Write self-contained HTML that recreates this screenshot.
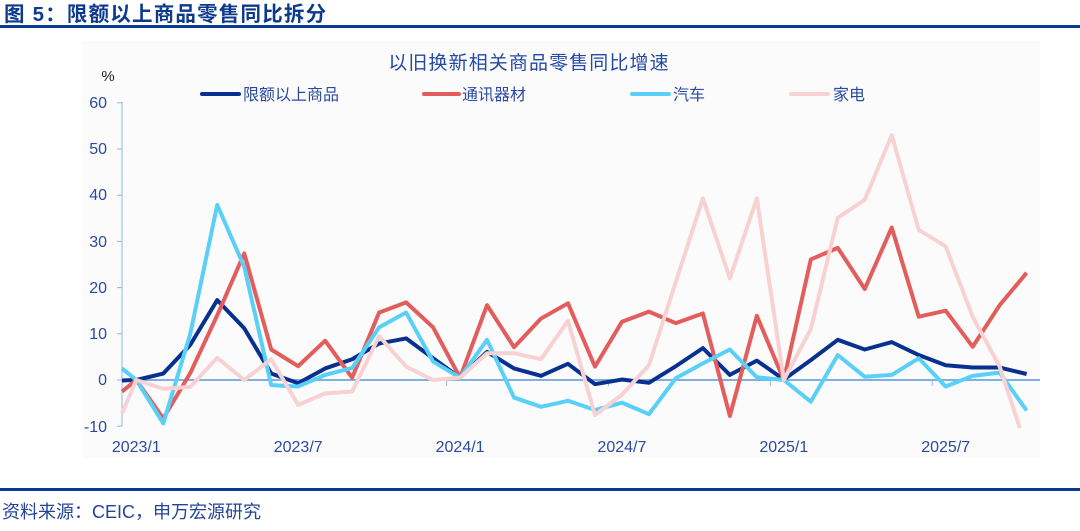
<!DOCTYPE html>
<html><head><meta charset="utf-8"><style>
html,body{margin:0;padding:0;background:#fff;}
svg{display:block;}
text{font-family:"Liberation Sans","Noto Sans CJK SC",sans-serif;}
</style></head><body>
<svg width="1080" height="531" viewBox="0 0 1080 531" xmlns="http://www.w3.org/2000/svg">
<rect x="0" y="0" width="1080" height="531" fill="#ffffff"/>
<text x="4" y="21" font-size="20.5" font-weight="bold" fill="#0e3a8e" letter-spacing="1.2">图 5：限额以上商品零售同比拆分</text>
<rect x="0" y="25" width="1080" height="3" fill="#0b3a94"/>
<rect x="82" y="41" width="958" height="417" fill="#fbfbfb"/>
<text x="529" y="69" font-size="19" fill="#244aa3" text-anchor="middle" letter-spacing="1.1">以旧换新相关商品零售同比增速</text>
<text x="108" y="81" font-size="15" fill="#222" text-anchor="middle">%</text>
<g stroke-width="4" stroke-linecap="round">
<line x1="202" y1="94" x2="239" y2="94" stroke="#08318f"/>
<line x1="424" y1="94" x2="459" y2="94" stroke="#e35d5d"/>
<line x1="632" y1="94" x2="669" y2="94" stroke="#5ad0f8"/>
<line x1="791" y1="94" x2="828" y2="94" stroke="#f8d2d2"/>
</g>
<g font-size="16" fill="#2a4aa0">
<text x="243" y="100">限额以上商品</text>
<text x="462" y="100">通讯器材</text>
<text x="673" y="100">汽车</text>
<text x="833" y="100">家电</text>
</g>
<g font-size="16" fill="#2b4a9e" text-anchor="end">
<text x="107" y="108">60</text>
<text x="107" y="154">50</text>
<text x="107" y="200">40</text>
<text x="107" y="247">30</text>
<text x="107" y="293">20</text>
<text x="107" y="339">10</text>
<text x="107" y="385">0</text>
<text x="107" y="432">-10</text>
</g>
<g stroke="#8cb9e6" stroke-width="1">
<line x1="122" y1="102" x2="122" y2="426"/>
<line x1="117" y1="102.8" x2="122" y2="102.8"/>
<line x1="117" y1="149" x2="122" y2="149"/>
<line x1="117" y1="195.2" x2="122" y2="195.2"/>
<line x1="117" y1="241.4" x2="122" y2="241.4"/>
<line x1="117" y1="287.6" x2="122" y2="287.6"/>
<line x1="117" y1="333.8" x2="122" y2="333.8"/>
<line x1="117" y1="380" x2="122" y2="380"/>
<line x1="117" y1="426.2" x2="122" y2="426.2"/>
<line x1="284.7" y1="380" x2="284.7" y2="386"/>
<line x1="446.6" y1="380" x2="446.6" y2="386"/>
<line x1="608.5" y1="380" x2="608.5" y2="386"/>
<line x1="770.3" y1="380" x2="770.3" y2="386"/>
<line x1="932.2" y1="380" x2="932.2" y2="386"/>
</g>
<line x1="122" y1="380" x2="1040" y2="380" stroke="#7eb0e4" stroke-width="2"/>
<g font-size="16" fill="#2b4a9e" text-anchor="middle">
<text x="136.3" y="452">2023/1</text>
<text x="298.2" y="452">2023/7</text>
<text x="460.1" y="452">2024/1</text>
<text x="621.9" y="452">2024/7</text>
<text x="783.8" y="452">2025/1</text>
<text x="945.7" y="452">2025/7</text>
</g>
<g transform="translate(136.3,380) scale(26.98,-4.62)" fill="none" stroke-linejoin="round">
<polyline vector-effect="non-scaling-stroke" stroke="#08318f" stroke-width="4" points="-0.53,-0.1 0,0 1,1.4 2,7.6 3,17.3 4,11.2 5,1.4 6,-0.7 7,2.5 8,4.5 9,7.9 10,9.0 11,4.7 12,0.5 13,6.1 14,2.5 15,0.9 16,3.5 17,-0.9 18,0.1 19,-0.6 20,3.0 21,6.9 22,1.1 23,4.2 24,0.1 25,4.3 26,8.7 27,6.6 28,8.2 29,5.4 30,3.2 31,2.7 32,2.7 33,1.3"/>
<polyline vector-effect="non-scaling-stroke" stroke="#e35d5d" stroke-width="4" points="-0.53,-2.5 0,0 1,-8.3 2,1.5 3,14 4,27.4 5,6.6 6,3.0 7,8.5 8,0.5 9,14.6 10,16.8 11,11.4 12,0.5 13,16.2 14,7.1 15,13.3 16,16.6 17,2.9 18,12.6 19,14.8 20,12.3 21,14.4 22,-7.8 23,13.9 24,0 25,26.1 26,28.6 27,19.7 28,33.0 29,13.7 30,15.0 31,7.2 32,16.2 33,23.2"/>
<polyline vector-effect="non-scaling-stroke" stroke="#5ad0f8" stroke-width="4" points="-0.53,2.5 0,0 1,-9.4 2,10 3,37.9 4,24.5 5,-1.1 6,-1.4 7,1.1 8,2.6 9,11.4 10,14.6 11,4.0 12,0.5 13,8.7 14,-3.8 15,-5.8 16,-4.5 17,-6.5 18,-4.9 19,-7.4 20,0.4 21,3.6 22,6.6 23,0.6 24,0 25,-4.7 26,5.4 27,0.7 28,1.1 29,4.7 30,-1.4 31,0.9 32,1.6 33,-6.6"/>
<polyline vector-effect="non-scaling-stroke" stroke="#f8d2d2" stroke-width="4" points="-0.53,-7.2 0,0 1,-1.9 2,-1.5 3,4.8 4,0 5,4.5 6,-5.4 7,-2.9 8,-2.5 9,9.5 10,2.9 11,0 12,0.5 13,5.8 14,5.8 15,4.5 16,12.8 17,-7.6 18,-3.2 19,3.2 20,21.3 21,39.3 22,22.0 23,39.3 24,0 25,11.0 26,35.1 27,39.0 28,53.0 29,32.5 30,28.9 31,13.7 32,2.9 32.75,-10.4"/>
</g>
<rect x="0" y="488" width="1080" height="3" fill="#0b3a94"/>
<text x="2" y="518" font-size="18" fill="#24449a">资料来源：CEIC，申万宏源研究</text>
</svg>
</body></html>
